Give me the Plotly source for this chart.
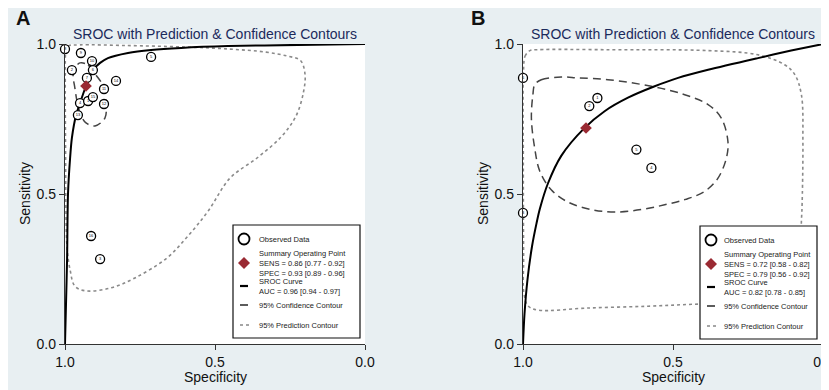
import plotly.graph_objects as go

W, H = 829, 390

# ---------------- Panel A data ----------------
a_labels = ["8", "9", "10", "6", "2", "7", "14", "11", "4", "1", "15", "12", "13", "5", "16", "3"]
a_spec = [1.000, 0.947, 0.910, 0.907, 0.977, 0.927, 0.830, 0.870, 0.950, 0.923, 0.907, 0.870, 0.957, 0.713, 0.913, 0.883]
a_sens = [0.983, 0.970, 0.943, 0.913, 0.913, 0.887, 0.877, 0.850, 0.803, 0.810, 0.823, 0.800, 0.763, 0.957, 0.360, 0.283]
a_sum_spec = [0.93]
a_sum_sens = [0.86]
a_sroc_spec = [1.0, 0.997, 0.993, 0.990, 0.983, 0.977, 0.963, 0.950, 0.930, 0.907, 0.883, 0.857, 0.790, 0.713, 0.613, 0.457, 0.223, 0.0]
a_sroc_sens = [0.0, 0.120, 0.287, 0.500, 0.620, 0.687, 0.763, 0.803, 0.860, 0.913, 0.937, 0.953, 0.970, 0.980, 0.987, 0.993, 0.997, 1.0]
a_conf_spec = [0.950, 0.923, 0.897, 0.873, 0.863, 0.867, 0.900, 0.930, 0.947, 0.960, 0.967, 0.973, 0.967, 0.950]
a_conf_sens = [0.937, 0.930, 0.897, 0.860, 0.797, 0.753, 0.727, 0.737, 0.763, 0.810, 0.853, 0.897, 0.920, 0.937]
a_pred_spec = [0.999, 0.997, 0.990, 0.950, 0.800, 0.600, 0.450, 0.330, 0.260, 0.215, 0.200, 0.205, 0.230, 0.280, 0.360, 0.450, 0.523,
               0.590, 0.660, 0.767, 0.847, 0.930, 0.967, 0.983, 0.993, 0.997, 0.998, 0.999]
a_pred_sens = [0.900, 0.975, 0.993, 0.997, 0.995, 0.990, 0.983, 0.973, 0.960, 0.945, 0.900, 0.840, 0.760, 0.690, 0.620, 0.553, 0.443,
               0.360, 0.287, 0.220, 0.187, 0.177, 0.193, 0.247, 0.320, 0.450, 0.620, 0.900]

# ---------------- Panel B data ----------------
b_labels = ["6", "1", "2", "5", "4", "3"]
b_spec = [1.000, 0.752, 0.779, 0.622, 0.572, 1.000]
b_sens = [0.887, 0.820, 0.793, 0.648, 0.587, 0.437]
b_sum_spec = [0.79]
b_sum_sens = [0.72]
b_sroc_spec = [1.0, 0.995, 0.985, 0.970, 0.955, 0.944, 0.917, 0.872, 0.797, 0.728, 0.650, 0.561, 0.483, 0.383, 0.217, 0.106, 0.0]
b_sroc_sens = [0.0, 0.100, 0.215, 0.325, 0.402, 0.450, 0.535, 0.628, 0.718, 0.776, 0.821, 0.859, 0.887, 0.914, 0.953, 0.978, 1.0]
b_conf_spec = [0.961, 0.939, 0.872, 0.817, 0.717, 0.572, 0.461, 0.383, 0.339, 0.317, 0.322, 0.350, 0.394, 0.458, 0.528, 0.606,
               0.694, 0.772, 0.850, 0.906, 0.944, 0.961, 0.972, 0.967, 0.961]
b_conf_sens = [0.864, 0.881, 0.890, 0.887, 0.881, 0.859, 0.831, 0.798, 0.753, 0.676, 0.620, 0.553, 0.509, 0.482, 0.464, 0.448,
               0.440, 0.448, 0.473, 0.514, 0.576, 0.653, 0.753, 0.831, 0.864]
b_pred_spec = [0.998, 0.993, 0.977, 0.950, 0.717, 0.383, 0.217, 0.128, 0.094, 0.072, 0.067, 0.070, 0.072, 0.077, 0.090, 0.123,
               0.250, 0.417, 0.583, 0.783, 0.950, 0.983, 0.997, 0.998, 0.999, 0.998]
b_pred_sens = [0.920, 0.960, 0.978, 0.981, 0.981, 0.978, 0.964, 0.931, 0.898, 0.831, 0.676, 0.453, 0.409, 0.253, 0.170, 0.143,
               0.137, 0.133, 0.126, 0.120, 0.113, 0.127, 0.170, 0.287, 0.620, 0.920]

tick_vals = [0, 0.5, 1]
tick_text = ["0.0", "0.5", "1.0"]
title_text = "SROC with Prediction &amp; Confidence Contours"
x_title = "Specificity"
y_title = "Sensitivity"

legend_a = ["Observed Data",
            "Summary Operating Point<br>SENS = 0.86 [0.77 - 0.92]<br>SPEC = 0.93 [0.89 - 0.96]",
            "SROC Curve<br>AUC = 0.96 [0.94 - 0.97]", "95% Confidence Contour", "95% Prediction Contour"]
legend_b = ["Observed Data",
            "Summary Operating Point<br>SENS = 0.72 [0.58 - 0.82]<br>SPEC = 0.79 [0.56 - 0.92]",
            "SROC Curve<br>AUC = 0.82 [0.78 - 0.85]", "95% Confidence Contour", "95% Prediction Contour"]

FONT = "Liberation Sans, Arial, sans-serif"
RED = "#9a2a33"

fig = go.Figure()


def add_panel(xa, ya, spec, sens, labels, sspec, ssens, sroc_x, sroc_y, cx, cy, px_, py_):
    fig.add_trace(go.Scatter(x=px_, y=py_, mode="lines", xaxis=xa, yaxis=ya, showlegend=False,
                             line=dict(color="#8a8a8a", width=1.6, dash="dot", shape="spline", smoothing=1.0),
                             hoverinfo="skip"))
    fig.add_trace(go.Scatter(x=cx, y=cy, mode="lines", xaxis=xa, yaxis=ya, showlegend=False,
                             line=dict(color="#444444", width=1.5, dash="8px,5px", shape="spline", smoothing=1.0),
                             hoverinfo="skip"))
    fig.add_trace(go.Scatter(x=sroc_x, y=sroc_y, mode="lines", xaxis=xa, yaxis=ya, showlegend=False,
                             line=dict(color="#000000", width=2, shape="spline", smoothing=0.8),
                             hoverinfo="skip"))
    fig.add_trace(go.Scatter(x=spec, y=sens, mode="markers+text", text=labels, textposition="middle center",
                             textfont=dict(size=4, color="#000", family=FONT), xaxis=xa, yaxis=ya, showlegend=False,
                             marker=dict(symbol="circle", size=9, color="white", line=dict(color="black", width=1.3)),
                             cliponaxis=False))
    fig.add_trace(go.Scatter(x=sspec, y=ssens, mode="markers", xaxis=xa, yaxis=ya, showlegend=False,
                             marker=dict(symbol="diamond", size=9, color=RED, line=dict(color=RED, width=0)),
                             cliponaxis=False))


add_panel("x", "y", a_spec, a_sens, a_labels, a_sum_spec, a_sum_sens, a_sroc_spec, a_sroc_sens,
          a_conf_spec, a_conf_sens, a_pred_spec, a_pred_sens)
add_panel("x2", "y2", b_spec, b_sens, b_labels, b_sum_spec, b_sum_sens, b_sroc_spec, b_sroc_sens,
          b_conf_spec, b_conf_sens, b_pred_spec, b_pred_sens)


def px(x):
    return x / W


def py(y):
    return 1 - y / H


ydom = [py(336), py(36)]
axis_common = dict(showline=True, linecolor="#333333", linewidth=1.3, ticks="outside", ticklen=5, tickwidth=1.2,
                   tickcolor="#333333", showgrid=False, zeroline=False, tickvals=tick_vals, ticktext=tick_text,
                   tickfont=dict(size=14, color="#111111", family=FONT), fixedrange=True, automargin=False)

fig.update_layout(
    width=W, height=H, margin=dict(l=0, r=0, t=0, b=0, autoexpand=False),
    paper_bgcolor="#e8eff2", plot_bgcolor="white", font=dict(family=FONT),
    xaxis=dict(domain=[px(57), px(357)], range=[1, 0], anchor="y", **axis_common),
    yaxis=dict(domain=ydom, range=[0, 1], anchor="x", **axis_common),
    xaxis2=dict(domain=[px(515), px(815)], range=[1, 0], anchor="y2", **axis_common),
    yaxis2=dict(domain=ydom, range=[0, 1], anchor="x2", **axis_common),
)

annotations = []
shapes = []

# panel letters, titles and axis titles
for letter, lx, xd, ytx in (("A", 6, "x domain", 17), ("B", 461, "x2 domain", 475)):
    annotations.append(dict(text="<b>%s</b>" % letter, x=px(lx), y=py(10), xref="paper", yref="paper",
                            xanchor="left", yanchor="middle", showarrow=False,
                            font=dict(size=20, color="#111", family=FONT)))
    annotations.append(dict(text=title_text, x=0.5, y=py(26), xref=xd, yref="paper", xanchor="center",
                            yanchor="middle", showarrow=False, font=dict(size=14, color="#1b2a5c", family=FONT)))
    annotations.append(dict(text=x_title, x=0.5, y=py(369), xref=xd, yref="paper", xanchor="center",
                            yanchor="middle", showarrow=False, font=dict(size=14, color="#111", family=FONT)))
    annotations.append(dict(text=y_title, x=px(ytx), y=py(186), xref="paper", yref="paper", xanchor="center",
                            yanchor="middle", textangle=-90, showarrow=False,
                            font=dict(size=14, color="#111", family=FONT)))


def add_legend(texts, bx0, bx1, by0, by1, sx, tx, dy):
    shapes.append(dict(type="rect", xref="paper", yref="paper", x0=px(bx0), x1=px(bx1), y0=py(by1), y1=py(by0),
                       line=dict(color="#111", width=1.2), fillcolor="white", layer="above"))
    # observed data circle
    shapes.append(dict(type="circle", xref="paper", yref="paper", x0=px(sx - 5.5), x1=px(sx + 5.5),
                       y0=py(231 + dy + 5.5), y1=py(231 + dy - 5.5), line=dict(color="black", width=1.8),
                       fillcolor="white", layer="above"))
    # summary diamond
    cyd = 255 + dy
    shapes.append(dict(type="path", xref="paper", yref="paper",
                       path="M %f %f L %f %f L %f %f L %f %f Z" % (px(sx), py(cyd - 6), px(sx + 6), py(cyd),
                                                               px(sx), py(cyd + 6), px(sx - 6), py(cyd)),
                       line=dict(color=RED, width=0), fillcolor=RED, layer="above"))
    # line samples
    shapes.append(dict(type="line", xref="paper", yref="paper", x0=px(sx - 4), x1=px(sx + 4), y0=py(278 + dy),
                       y1=py(278 + dy), line=dict(color="black", width=2.2), layer="above"))
    shapes.append(dict(type="line", xref="paper", yref="paper", x0=px(sx - 4), x1=px(sx + 4), y0=py(297 + dy),
                       y1=py(297 + dy), line=dict(color="#333", width=1.6), layer="above"))
    shapes.append(dict(type="line", xref="paper", yref="paper", x0=px(sx - 4), x1=px(sx + 5), y0=py(317 + dy),
                       y1=py(317 + dy), line=dict(color="#888", width=1.4, dash="dot"), layer="above"))
    ys = [231, 255, 278, 297, 317]
    for t, yy in zip(texts, ys):
        annotations.append(dict(text=t, x=px(tx), y=py(yy + dy), xref="paper", yref="paper", xanchor="left",
                                yanchor="middle", align="left", showarrow=False,
                                font=dict(size=7.5, color="#222", family=FONT)))


add_legend(legend_a, 225, 352, 217, 330, 236, 249, 0)
add_legend(legend_b, 692, 809, 218, 331, 703, 714, 1)

fig.update_layout(annotations=annotations, shapes=shapes)
fig.write_html("out.html")
